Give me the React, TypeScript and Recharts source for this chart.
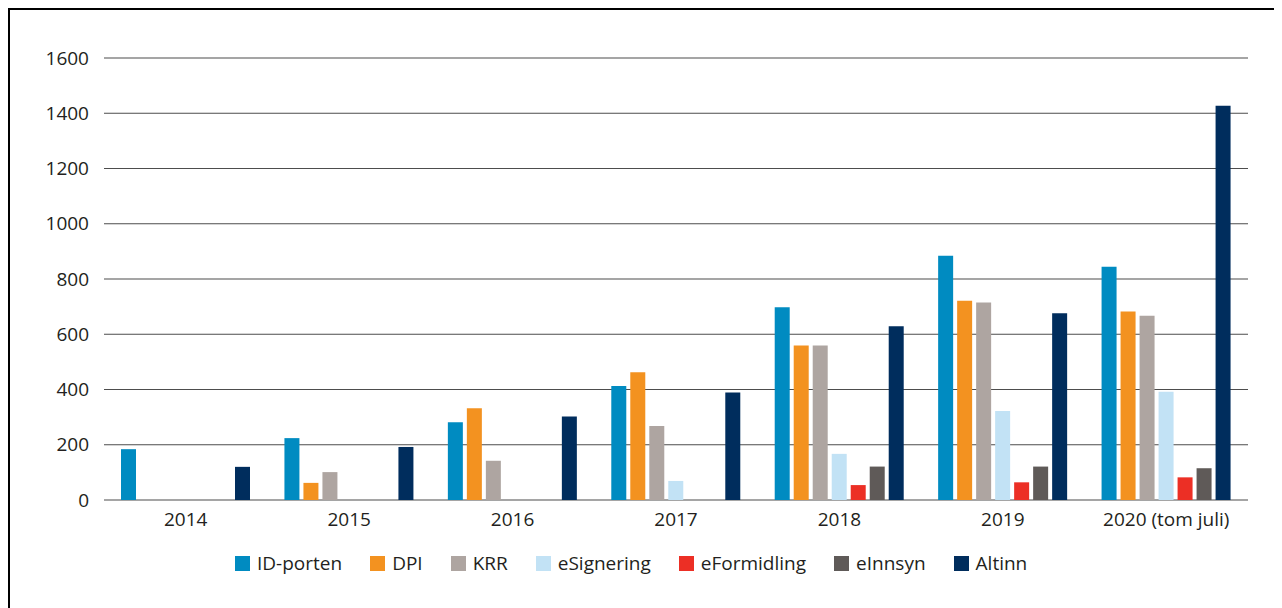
import React from 'react';
import { BarChart, Bar, CartesianGrid, XAxis, YAxis, Legend } from 'recharts';

const years = ['2014', '2015', '2016', '2017', '2018', '2019', '2020 (tom juli)'];

const idPorten = [184, 224, 281, 413, 698, 884, 844];
const dpi = [null, 62, 332, 462, 559, 721, 682];
const krr = [null, 101, 142, 268, 559, 715, 667];
const eSignering = [null, null, null, 69, 167, 322, 392];
const eFormidling = [null, null, null, null, 54, 64, 82];
const eInnsyn = [null, null, null, null, 121, 121, 115];
const altinn = [120, 192, 302, 389, 629, 676, 1427];

const yTicks = [0, 200, 400, 600, 800, 1000, 1200, 1400, 1600];

const series = [
  { key: 'ID-porten', values: idPorten, color: '#008bc1' },
  { key: 'DPI', values: dpi, color: '#f39220' },
  { key: 'KRR', values: krr, color: '#aea5a1' },
  { key: 'eSignering', values: eSignering, color: '#c2e2f5' },
  { key: 'eFormidling', values: eFormidling, color: '#ec2f25' },
  { key: 'eInnsyn', values: eInnsyn, color: '#5f5a58' },
  { key: 'Altinn', values: altinn, color: '#002d5d' },
];

const seriesOrder = series.map((s) => s.key);

const data = years.map((year, i) => {
  const row: Record<string, string | number | null> = { year };
  series.forEach((s) => {
    row[s.key] = s.values[i];
  });
  return row;
});

const font = '"Open Sans", sans-serif';
const textColor = '#231f20';

// legend in series order, not alphabetical
function LegendContent(props: any) {
  const items = [...(props.payload || [])].sort(
    (a: any, b: any) => seriesOrder.indexOf(a.value) - seriesOrder.indexOf(b.value)
  );
  return (
    <div style={{ display: 'flex', gap: 28, fontFamily: font, fontSize: 19, color: textColor }}>
      {items.map((it: any) => (
        <div key={it.value} style={{ display: 'flex', alignItems: 'center', gap: 7 }}>
          <span style={{ width: 15, height: 15, background: it.color, display: 'inline-block' }} />
          <span style={{ lineHeight: '22px' }}>{it.value}</span>
        </div>
      ))}
    </div>
  );
}

export default function App() {
  return (
    <div
      style={{
        position: 'relative',
        width: 1274,
        height: 600,
        boxSizing: 'border-box',
        borderTop: '2px solid #000',
        borderLeft: '2px solid #000',
      }}
    >
      <div style={{ position: 'absolute', left: -2, top: -2 }}>
        <BarChart
          width={1274}
          height={600}
          data={data}
          margin={{ top: 50, right: 34, bottom: 68, left: 0 }}
          barCategoryGap={17}
          barGap={4}
        >
          <CartesianGrid vertical={false} stroke="#4d4d4d" strokeWidth={1.2} />
          <XAxis
            dataKey="year"
            axisLine={false}
            tickLine={false}
            tickSize={0}
            tickMargin={13}
            height={40}
            tick={{ fill: textColor, fontSize: 19, fontFamily: font }}
          />
          <YAxis
            domain={[0, 1600]}
            ticks={yTicks}
            axisLine={false}
            tickLine={false}
            tickSize={0}
            tickMargin={15}
            width={96}
            tick={{ fill: textColor, fontSize: 19, fontFamily: font }}
          />
          <Legend
            verticalAlign="middle"
            align="center"
            content={<LegendContent />}
            wrapperStyle={{ top: 544, left: 227, width: 900 }}
          />
          {series.map((s) => (
            <Bar key={s.key} dataKey={s.key} fill={s.color} isAnimationActive={false} />
          ))}
        </BarChart>
      </div>
    </div>
  );
}
